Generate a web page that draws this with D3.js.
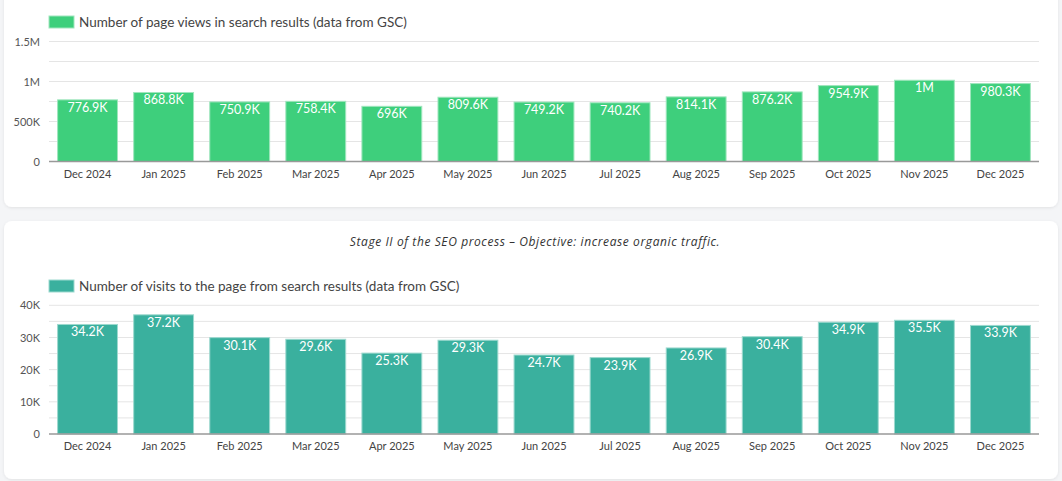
<!DOCTYPE html>
<html>
<head>
<meta charset="utf-8">
<script src="https://cdn.jsdelivr.net/npm/d3@7"></script>
<style>
  body { margin: 0; background: #f4f5f7; }
  svg { display: block; font-family: Lato, sans-serif; }
</style>
</head>
<body>
<div id="chart"></div>
<script>
const months = ["Dec 2024", "Jan 2025", "Feb 2025", "Mar 2025", "Apr 2025", "May 2025", "Jun 2025",
  "Jul 2025", "Aug 2025", "Sep 2025", "Oct 2025", "Nov 2025", "Dec 2025"];
const pageViews = [776900, 868800, 750900, 758400, 696000, 809600, 749200, 740200, 814100, 876200, 954900, 1022000, 980300];
const visits = [34200, 37200, 30100, 29600, 25300, 29300, 24700, 23900, 26900, 30400, 34900, 35500, 33900];
const viewTicks = [0, 500000, 1000000, 1500000];
const visitTicks = [0, 10000, 20000, 30000, 40000];
const viewLegend = "Number of page views in search results (data from GSC)";
const visitLegend = "Number of visits to the page from search results (data from GSC)";
const subtitle = "Stage II of the SEO process \u2013 Objective: increase organic traffic.";

const W = 1062, H = 481;
const svg = d3.select("#chart").append("svg").attr("width", W).attr("height", H);

const defs = svg.append("defs");
const f = defs.append("filter").attr("id", "sh").attr("x", "-5%").attr("y", "-10%").attr("width", "110%").attr("height", "120%");
f.append("feDropShadow").attr("dx", 0).attr("dy", 1).attr("stdDeviation", 1.5).attr("flood-color", "#000").attr("flood-opacity", 0.08);

// cards
svg.append("rect").attr("x", 4).attr("y", -12).attr("width", 1054).attr("height", 219)
  .attr("rx", 8).attr("fill", "#fff").attr("filter", "url(#sh)");
svg.append("rect").attr("x", 4).attr("y", 221).attr("width", 1054).attr("height", 258)
  .attr("rx", 8).attr("fill", "#fff").attr("filter", "url(#sh)");

const fmt = v => v >= 1e6 ? d3.format(".1~f")(v / 1e6) + "M"
  : v >= 1000 ? d3.format(".1~f")(v / 1000) + "K" : String(v);
const tickFmt = v => v === 0 ? "0" : v >= 1e6 ? d3.format("~")(v / 1e6) + "M" : d3.format("~")(v / 1000) + "K";

const x = d3.scaleBand().domain(months).range([49.5, 1038.5]).paddingInner(0.2).paddingOuter(0.1);

function drawPanel(opt) {
  const g = svg.append("g");
  const y = d3.scaleLinear().domain([0, opt.max]).range([opt.y0, opt.y1]);

  // grid (major + minor)
  const gridVals = d3.range(0, opt.max + 1, opt.minor);
  g.append("g").selectAll("line").data(gridVals.slice(1)).join("line")
    .attr("x1", 49).attr("x2", 1039)
    .attr("y1", d => y(d)).attr("y2", d => y(d))
    .attr("stroke", "#e5e5e5").attr("stroke-width", 1);

  // y axis labels
  const ya = g.append("g").attr("transform", "translate(40,0)")
    .call(d3.axisLeft(y).tickValues(opt.ticks).tickFormat(tickFmt).tickSize(0).tickPadding(0));
  ya.select(".domain").remove();
  ya.selectAll("text").attr("fill", "#555").style("font-size", "11px").style("font-family", "Lato, sans-serif");

  // bars
  g.append("g").selectAll("rect").data(opt.values).join("rect")
    .attr("x", (d, i) => x(months[i]) + 0.5)
    .attr("y", d => y(d) + 0.5)
    .attr("width", x.bandwidth() - 1)
    .attr("height", d => opt.y0 - y(d) - 0.5)
    .attr("fill", opt.color)
    .attr("stroke", opt.stroke).attr("stroke-width", 1);

  // value labels
  g.append("g").selectAll("text").data(opt.values).join("text")
    .attr("x", (d, i) => x(months[i]) + x.bandwidth() / 2)
    .attr("y", d => y(d) + 12.5)
    .attr("text-anchor", "middle")
    .attr("fill", "#fff")
    .style("font-size", "12.5px")
    .text(fmt);

  // x axis
  const xa = g.append("g").attr("transform", `translate(0,${opt.y0})`)
    .call(d3.axisBottom(x).tickSize(0).tickPadding(0));
  xa.select(".domain").attr("stroke", "#999").attr("stroke-width", 1.5).attr("d", "M49,0H1039");
  xa.selectAll("text").attr("y", 0).attr("dy", opt.xLabelDy).attr("fill", "#444")
    .style("font-size", "11px").style("font-family", "Lato, sans-serif");

  // legend
  g.append("rect").attr("x", 49).attr("y", opt.legendY).attr("width", 25).attr("height", 12)
    .attr("fill", opt.color).attr("stroke", opt.stroke);
  g.append("text").attr("x", 79).attr("y", opt.legendY + 10.5)
    .attr("fill", "#444").style("font-size", "13.5px").text(opt.legend);
}

drawPanel({
  values: pageViews, max: 1500000, minor: 250000, ticks: viewTicks,
  y0: 161.5, y1: 41.5, color: "#3ecf7c", stroke: "#9fe6bd",
  legend: viewLegend, legendY: 16, xLabelDy: 16.5
});

svg.append("text").attr("x", 535).attr("y", 245.5).attr("text-anchor", "middle")
  .attr("fill", "#333").style("font-size", "12px").style("font-style", "italic")
  .style("font-family", "'Open Sans', sans-serif").style("letter-spacing", "0.6px")
  .text(subtitle);

drawPanel({
  values: visits, max: 40000, minor: 5000, ticks: visitTicks,
  y0: 434, y1: 305.3, color: "#3ab09e", stroke: "#9dd9cf",
  legend: visitLegend, legendY: 280, xLabelDy: 15.5
});
</script>
</body>
</html>
